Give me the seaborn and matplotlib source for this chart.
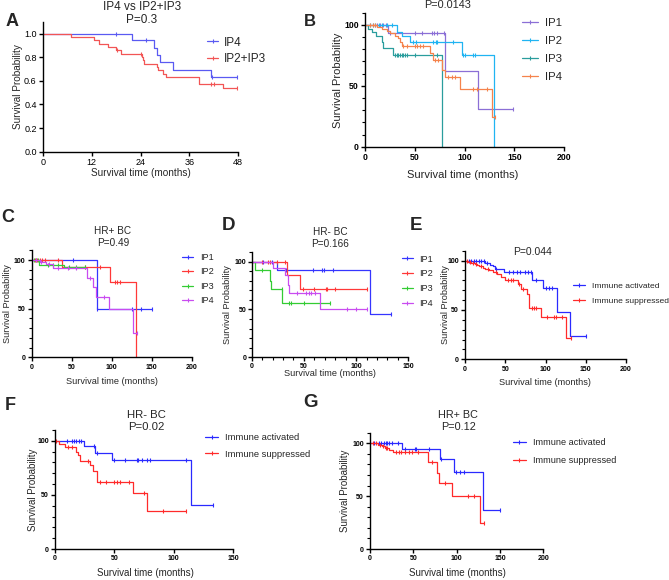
import numpy as np
import matplotlib
matplotlib.use("Agg")
import matplotlib.pyplot as plt
from matplotlib.lines import Line2D
from matplotlib.ticker import MultipleLocator, FormatStrFormatter
import seaborn as sns

# ---- values: event times, survival after event, censor times ----
# A  (fraction)
a_ip4_t = [22, 27.3, 28.1, 28.9, 31.9, 41.3]
a_ip4_s = [0.944, 0.879, 0.817, 0.755, 0.693, 0.628]
a_ip4_c = [17.9, 25.3, 41.6, 47.7]
a_ip23_t = [6.8, 12.5, 13.7, 16.1, 17.9, 19.3, 24.3, 24.6, 24.9, 28.0, 28.4, 29.5, 30.2, 38.3, 44.3]
a_ip23_s = [0.972, 0.944, 0.915, 0.887, 0.859, 0.83, 0.80, 0.775, 0.745, 0.72, 0.69, 0.66, 0.63, 0.57, 0.535]
a_ip23_c = [18.2, 24.0, 41.3, 42.0, 47.8]

# B  (percent)
b_ip1_t = [23.4, 80, 113]
b_ip1_s = [93, 62, 31]
b_ip1_c = [12, 15, 18, 21, 25, 50, 57, 67, 69, 72, 79, 149]
b_ip2_t = [31.8, 37, 45, 97, 129]
b_ip2_s = [94.5, 91, 86, 75, 0]
b_ip2_c = [5, 8, 10, 14, 17, 22, 27, 48.5, 51, 68.6, 71, 72.6, 88.6, 98.7, 100, 108.7, 110.4]
b_ip3_t = [3.3, 6.7, 11, 16.7, 17.7, 27.8, 77]
b_ip3_s = [97, 94, 91, 86, 81, 75, 0]
b_ip3_c = [30, 32, 33.5, 35, 37, 38.5, 40, 42.5, 50, 72]
b_ip4_t = [12, 17, 22, 25, 30, 33, 35, 37, 65, 68, 77, 80, 95.3, 127]
b_ip4_s = [98, 97, 95, 93, 91, 89, 86, 83, 77, 71, 63, 57, 47, 24]
b_ip4_c = [5, 8, 10, 38.5, 41.8, 50, 52.5, 55, 58.5, 70, 73, 83.6, 87, 90.3, 108.7, 112, 122, 130]

# C  HR+ BC
c_ip1_t = [81]
c_ip1_s = [50]
c_ip1_c = [51, 81, 125, 137, 150]
c_ip2_t = [37.5, 98, 130]
c_ip2_s = [93, 77.5, 0]
c_ip2_c = [4, 7, 10, 13, 17, 33, 67, 85, 104, 106, 110]
c_ip3_t = [9.6, 40]
c_ip3_s = [95, 93]
c_ip3_c = [3, 5, 8, 20, 27, 33, 46, 55, 67]
c_ip4_t = [10, 18, 26, 69, 77, 80, 96, 127]
c_ip4_s = [98, 96, 92, 82, 72, 62, 50, 25]
c_ip4_c = [5, 12, 22, 33, 45, 55, 73, 90, 131]

# D  HR- BC
d_ip1_t = [24.6, 113]
d_ip1_s = [91, 45]
d_ip1_c = [11, 19, 33, 59, 67, 69, 78, 133]
d_ip2_t = [33.5, 46]
d_ip2_s = [86, 71]
d_ip2_c = [10, 16, 18, 24, 32, 49, 60, 71, 72, 80, 110]
d_ip3_t = [3, 17.6, 18.5, 29.4]
d_ip3_s = [91, 80, 71, 57]
d_ip3_c = [9.5, 29, 36, 38, 50, 75]
d_ip4_t = [20.8, 32, 35, 36, 65]
d_ip4_s = [93, 86, 76, 67, 50]
d_ip4_c = [43, 52, 54.5, 57, 61, 91, 100, 110]

# E  all
e_act_t = [25, 31, 35, 37, 48, 83, 97, 114, 130]
e_act_s = [98, 96, 94, 91, 88, 80, 72, 48, 24]
e_act_c = [5, 8, 11, 14, 17, 20, 23, 27, 39, 55, 60, 64, 68, 75, 78, 82, 88, 100, 104, 108, 150]
e_sup_t = [4, 8, 12, 15, 18, 22, 25, 30, 35, 40, 45, 50, 66, 70, 77, 79, 80, 95, 126]
e_sup_s = [99, 98, 97, 96, 94, 92, 91, 90, 88, 86, 83, 80, 76, 71, 66, 57, 52, 43, 22]
e_sup_c = [2, 6, 10, 14, 20, 28, 38, 53, 57, 60, 67, 72, 83, 86, 88, 102, 110, 113, 120, 132]

# F  HR- BC
f_act_t = [24.7, 33.6, 47.7, 114]
f_act_s = [95, 89, 82, 41]
f_act_c = [10, 14, 16, 18, 20, 21.5, 33, 35, 50, 59, 69, 70, 73, 77, 80, 110, 133]
f_sup_t = [3.6, 8.4, 18, 19.5, 21, 29.4, 32, 35, 66, 77.7]
f_sup_s = [97, 94, 90, 87, 81, 78, 72, 62, 52, 35]
f_sup_c = [1, 11, 14, 28, 38, 43, 50, 52, 55, 62, 75, 91, 110]

# G  HR+ BC
g_act_t = [37.3, 80.8, 97, 130]
g_act_s = [95, 85, 73, 37]
g_act_c = [5, 10, 13, 16, 18, 20, 22, 25, 32, 40, 52, 53, 68, 82, 99, 104, 108, 150]
g_sup_t = [9.6, 14, 17, 22, 27, 67, 77, 80, 95, 127]
g_sup_s = [98, 97, 96, 94, 92, 82, 72, 62, 50, 25]
g_sup_c = [3, 7, 12, 15, 18, 20, 30, 33, 36, 40, 45, 48, 55, 72, 87, 113, 120, 131]

ip_labels = ["IP1", "IP2", "IP3", "IP4"]
imm_labels = ["Immune activated", "Immune suppressed"]

W, H = 669, 580
sns.set_theme(style="ticks")
plt.rcParams["font.family"] = ["Liberation Sans", "DejaVu Sans"]

fig = plt.figure(figsize=(W / 100, H / 100), dpi=100)


def px(x, y):
    return x / W, 1 - y / H


def new_ax(x0, y0, x1, y1):
    return fig.add_axes([x0 / W, 1 - y1 / H, (x1 - x0) / W, (y1 - y0) / H])


def km(ax, t, s, c, color, top=100):
    t = np.asarray(t, float)
    s = np.asarray(s, float)
    end = max(t[-1], max(c))
    x = np.r_[0, t, end]
    y = np.r_[top, s, s[-1]]
    sns.lineplot(x=x, y=y, drawstyle="steps-post", estimator=None, sort=False,
                 color=color, lw=0.9, ax=ax)
    cy = np.r_[top, s][np.searchsorted(t, c, side="right")]
    ax.plot(c, cy, ls="none", marker="|", ms=3.5, mew=0.8, color=color, clip_on=False)


def style(ax, xmax, xstep, ymax, ystep, fs=5, bold=True, yminor=None, xminor=None, pad=1.5):
    ax.set_xlim(0, xmax)
    ax.set_ylim(0, ymax)
    ax.xaxis.set_major_locator(MultipleLocator(xstep))
    ax.yaxis.set_major_locator(MultipleLocator(ystep))
    if yminor:
        ax.yaxis.set_minor_locator(MultipleLocator(yminor))
    if xminor:
        ax.xaxis.set_minor_locator(MultipleLocator(xminor))
    sns.despine(ax=ax)
    for sp in ("left", "bottom"):
        ax.spines[sp].set_linewidth(1.0)
        ax.spines[sp].set_color("black")
    ax.tick_params(which="major", length=3, width=1.0, pad=pad, labelsize=fs, colors="black")
    ax.tick_params(which="minor", length=2, width=0.8, colors="black")
    for lab in ax.get_xticklabels() + ax.get_yticklabels():
        lab.set_fontweight("bold" if bold else "normal")
    ax.set_xlabel("")
    ax.set_ylabel("")


def labels(ax, box, xl, yl, fs):
    x0, y0, x1, y1 = box
    ax.set_xlabel("Survival time (months)", fontsize=fs, va="center")
    ax.set_ylabel("Survival Probability", fontsize=fs, va="center")
    ax.xaxis.set_label_coords((xl[0] - x0) / (x1 - x0), (y1 - xl[1]) / (y1 - y0))
    ax.yaxis.set_label_coords((yl[0] - x0) / (x1 - x0), (y1 - yl[1]) / (y1 - y0))


def legend(ax, names, colors, x, y, fs, hl, tp, ls):
    hs = [Line2D([], [], color=c, lw=0.9, marker="|", ms=3.5, mew=0.8) for c in colors]
    ax.legend(hs, names, loc="upper left", bbox_to_anchor=px(x, y), bbox_transform=fig.transFigure,
              frameon=False, fontsize=fs, handlelength=hl, handletextpad=tp, labelspacing=ls,
              borderpad=0, borderaxespad=0)


def ftext(x, y, s, fs, **kw):
    fig.text(*px(x, y), s, fontsize=fs, ha="center", va="center", **kw)


ip_a = ["#5a5af2", "#f25555"]
ip_b = ["#8b6fd6", "#20b4f2", "#2a9d9d", "#f5834c"]
ip_c = ["#3535ff", "#ff3838", "#33cc33", "#c94cf0"]
imm = ["#2a2aff", "#ff2a2a"]

# ---- A ----
boxA = (43, 21.7, 238, 151.7)
ax = new_ax(*boxA)
km(ax, a_ip4_t, a_ip4_s, a_ip4_c, ip_a[0], top=1.0)
km(ax, a_ip23_t, a_ip23_s, a_ip23_c, ip_a[1], top=1.0)
style(ax, 48, 12, 1.1, 0.2, fs=6.5, bold=False)
ax.yaxis.set_major_formatter(FormatStrFormatter("%.1f"))
labels(ax, boxA, (141, 173), (18.5, 87), 7.2)
legend(ax, ["IP4", "IP2+IP3"], ip_a, 207, 36.5, 8.5, 0.95, 0.45, 0.42)
ftext(141.7, 13.4, "IP4 vs IP2+IP3\nP=0.3", 8.5, linespacing=1.1)

# ---- B ----
boxB = (365, 12.8, 564.3, 146.7)
ax = new_ax(*boxB)
for (t, s, c), col in zip([(b_ip1_t, b_ip1_s, b_ip1_c), (b_ip2_t, b_ip2_s, b_ip2_c),
                           (b_ip3_t, b_ip3_s, b_ip3_c), (b_ip4_t, b_ip4_s, b_ip4_c)], ip_b):
    km(ax, t, s, c, col)
style(ax, 200, 50, 110, 50, fs=6.3, yminor=10)
labels(ax, boxB, (463, 175), (338, 80), 8)
legend(ax, ip_labels, ip_b, 522, 17.5, 8.2, 1.4, 0.6, 0.72)
ftext(448, 5, "P=0.0143", 7.8)

# ---- C ----
boxC = (31.7, 250.3, 191.7, 357.3)
ax = new_ax(*boxC)
for (t, s, c), col in zip([(c_ip1_t, c_ip1_s, c_ip1_c), (c_ip2_t, c_ip2_s, c_ip2_c),
                           (c_ip3_t, c_ip3_s, c_ip3_c), (c_ip4_t, c_ip4_s, c_ip4_c)], ip_c):
    km(ax, t, s, c, col)
style(ax, 200, 50, 110, 50, yminor=10)
labels(ax, boxC, (112, 381.7), (8, 304), 6.6)
legend(ax, ip_labels, ip_c, 182, 253, 6.6, 1.2, 0.75, 0.6)
ftext(113, 237, "HR+ BC\nP=0.49", 7.2, linespacing=1.2)

# ---- D ----
boxD = (251.7, 252.1, 408.3, 357.3)
ax = new_ax(*boxD)
for (t, s, c), col in zip([(d_ip1_t, d_ip1_s, d_ip1_c), (d_ip2_t, d_ip2_s, d_ip2_c),
                           (d_ip3_t, d_ip3_s, d_ip3_c), (d_ip4_t, d_ip4_s, d_ip4_c)], ip_c):
    km(ax, t, s, c, col)
style(ax, 150, 50, 110, 50, yminor=10, xminor=10, pad=0.8)
labels(ax, boxD, (330, 374), (227, 305), 6.6)
legend(ax, ip_labels, ip_c, 401.7, 254.5, 6.6, 1.25, 0.6, 0.63)
ftext(330.5, 238, "HR- BC\nP=0.166", 7.2, linespacing=1.2)

# ---- E ----
boxE = (465, 250.7, 626, 359.3)
ax = new_ax(*boxE)
km(ax, e_act_t, e_act_s, e_act_c, imm[0])
km(ax, e_sup_t, e_sup_s, e_sup_c, imm[1])
style(ax, 200, 50, 110, 50, yminor=10)
labels(ax, boxE, (545, 382.3), (445, 305), 6.6)
legend(ax, imm_labels, imm, 573, 282.2, 6.1, 1.4, 0.8, 0.82)
ftext(533, 251.7, "P=0.044", 7.5)

# ---- F ----
boxF = (55, 429.9, 233.3, 549)
ax = new_ax(*boxF)
km(ax, f_act_t, f_act_s, f_act_c, imm[0])
km(ax, f_sup_t, f_sup_s, f_sup_c, imm[1])
style(ax, 150, 50, 110, 50, yminor=10)
labels(ax, boxF, (145, 572.7), (33.3, 489.5), 7)
legend(ax, imm_labels, imm, 205, 433.5, 6.75, 1.4, 0.75, 0.76)
ftext(146.7, 420.5, "HR- BC\nP=0.02", 8.2, linespacing=1.25)

# ---- G ----
boxG = (370, 432.7, 543.3, 549)
ax = new_ax(*boxG)
km(ax, g_act_t, g_act_s, g_act_c, imm[0])
km(ax, g_sup_t, g_sup_s, g_sup_c, imm[1])
style(ax, 200, 50, 110, 50, yminor=10)
labels(ax, boxG, (457.5, 572.7), (345, 491), 7)
legend(ax, imm_labels, imm, 513, 438, 6.6, 1.4, 0.75, 1.02)
ftext(458.3, 421.5, "HR+ BC\nP=0.12", 7.8, linespacing=1.25)

# ---- panel letters ----
for (x, y, s, fs) in [(12.5, 21.5, "A", 13), (310, 21, "B", 12), (8, 218, "C", 13),
                      (228.5, 226, "D", 13.5), (416, 226, "E", 13.5),
                      (10, 405, "F", 13), (310, 402.5, "G", 13.5)]:
    ftext(x, y, s, fs, fontweight="bold")

fig.savefig("out.png", dpi=100)
